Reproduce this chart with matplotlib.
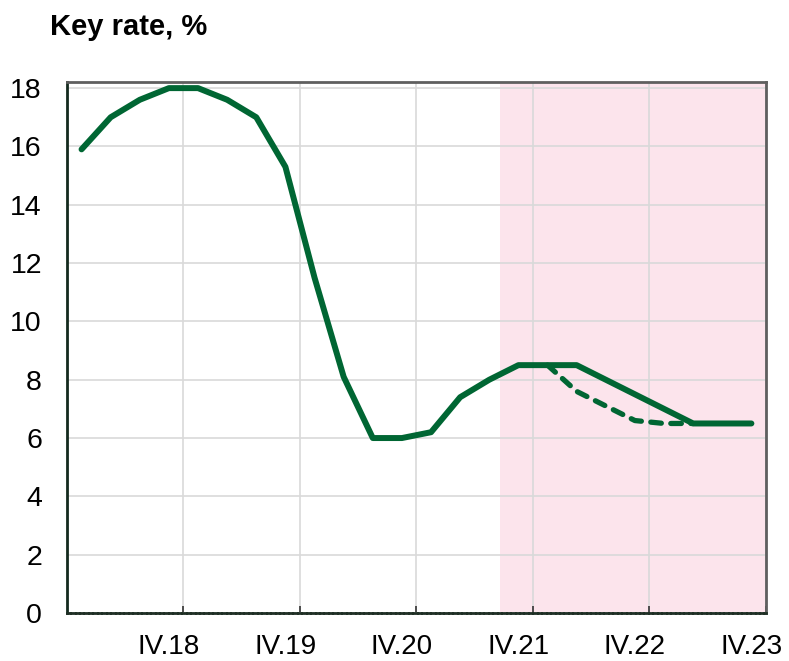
import matplotlib
matplotlib.use("Agg")
import matplotlib.pyplot as plt
import numpy as np

plt.rcParams['font.family'] = ['Liberation Sans', 'DejaVu Sans']

# Quarterly key rate, IV.17 .. III.23 (one point per quarter)
rate = [15.9, 17.0, 17.6, 18.0, 18.0, 17.6, 17.0, 15.3, 11.5, 8.1, 6.0, 6.0,
        6.2, 7.4, 8.0, 8.5, 8.5, 8.5, 8.0, 7.5, 7.0, 6.5, 6.5, 6.5]
# alternative scenario (dashed), starting at quarter index 16
alt_start = 16
alt_rate = [8.5, 7.6, 7.1, 6.6, 6.5, 6.5]

tick_labels = ['IV.18', 'IV.19', 'IV.20', 'IV.21', 'IV.22', 'IV.23']
forecast_from = 14.87  # start of shaded forecast area, in quarters

green = '#006633'

fig = plt.figure(figsize=(7.89, 6.61), dpi=100)
ax = fig.add_axes([0.0849, 0.0726, 0.8859, 0.8038])

x = np.arange(len(rate)) + 0.5
x_alt = np.arange(len(alt_rate)) + alt_start + 0.5

ax.axvspan(forecast_from, len(rate), color='#fce4ec', zorder=0, lw=0)
ax.plot(x_alt, alt_rate, color=green, lw=3.8, ls=(0, (2.0, 1.8)),
        solid_capstyle='round', dash_capstyle='round', zorder=3)
ax.plot(x, rate, color=green, lw=4.3, solid_capstyle='round',
        solid_joinstyle='round', zorder=4)

ax.set_xlim(0, len(rate))
ax.set_ylim(0, 18.22)
ax.set_yticks(np.arange(0, 19, 2))

# tick marks on year boundaries, labels centred on the IV quarter
ax.set_xticks([4, 8, 12, 16, 20, 24])
ax.set_xticklabels([])
ax.set_xticks(np.arange(3.5, 24, 4), minor=True)
ax.set_xticklabels(tick_labels, minor=True)

ax.grid(True, which='major', color='#d9d9d9', lw=1.2, zorder=1)
ax.set_axisbelow(True)

ax.tick_params(axis='y', length=0, labelsize=20.5, pad=18)
ax.tick_params(axis='x', which='major', direction='in', length=5, width=1.2,
               color='#333333')
ax.tick_params(axis='x', which='minor', length=0, labelsize=20, pad=15)

for s in ['top', 'right']:
    ax.spines[s].set_color('#5f5f5f')
    ax.spines[s].set_linewidth(2)
ax.spines['left'].set_color('#142a1e')
ax.spines['left'].set_linewidth(2)
ax.spines['bottom'].set_color('#1f2f25')
ax.spines['bottom'].set_linewidth(2)
ax.spines['bottom'].set_linestyle((0, (1, 0.6)))

fig.text(0.0634, 0.947, 'Key rate, %', fontsize=21, fontweight='bold',
         ha='left', va='baseline')

fig.savefig('out.png', dpi=100)
